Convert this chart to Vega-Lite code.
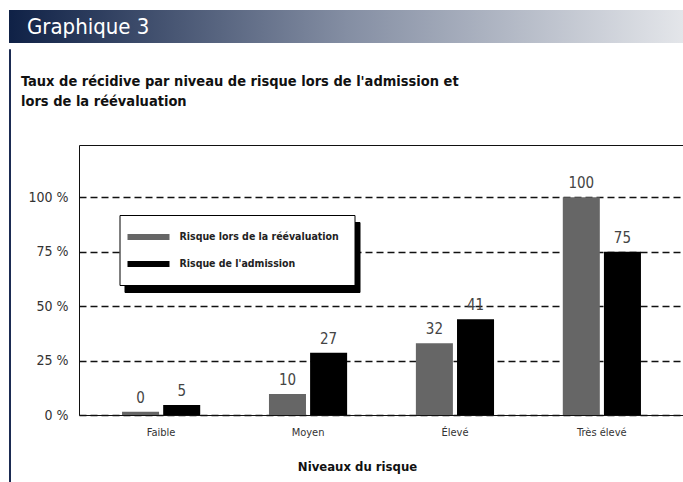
{
  "$schema": "https://vega.github.io/schema/vega-lite/v6.json",
  "autosize": {"type": "pad"},
  "padding": {"left": 8, "top": 10, "right": 0, "bottom": 0},
  "background": "white",
  "spacing": 0,
  "config": {
    "font": "DejaVu Sans Condensed, sans-serif"
  },
  "vconcat": [
    {
      "width": 675,
      "height": 33,
      "view": {
        "stroke": null,
        "fill": {
          "gradient": "linear",
          "x1": 0, "y1": 0, "x2": 1, "y2": 0,
          "stops": [
            {"offset": 0, "color": "#0f2146"},
            {"offset": 0.5, "color": "#848ea3"},
            {"offset": 1, "color": "#e4e6ea"}
          ]
        }
      },
      "data": {"values": [{"t": "Graphique 3"}]},
      "mark": {"type": "text", "align": "left", "baseline": "alphabetic", "dx": -319.5, "dy": 7, "fontSize": 22, "color": "#ffffff"},
      "encoding": {"text": {"field": "t"}}
    },
    {
      "spacing": 1,
      "hconcat": [
        {
          "width": 1,
          "height": 439,
          "view": {"stroke": "#1b2b52", "fill": null},
          "data": {"values": [{"t": ""}]},
          "mark": {"type": "text"},
          "encoding": {"text": {"field": "t"}}
        },
        {
          "spacing": 36,
          "vconcat": [
            {
              "width": 605,
              "height": 1,
              "view": {"stroke": null, "fill": null},
              "title": {
                "text": ["Taux de récidive par niveau de risque lors de l'admission et", "lors de la réévaluation"],
                "orient": "bottom",
                "anchor": "start",
                "frame": "group",
                "baseline": "top",
                "dx": -58,
                "offset": 20,
                "lineHeight": 20,
                "fontSize": 14.5,
                "fontWeight": "bold",
                "color": "#111111"
              },
              "data": {"values": [{"t": ""}]},
              "mark": {"type": "text"},
              "encoding": {"text": {"field": "t"}}
            },
            {
              "width": 605,
              "height": 270,
              "view": {"stroke": "#111111", "fill": "white"},
              "data": {
                "values": [
                  {"niveau": "Faible", "serie": "Risque lors de la réévaluation", "hauteur": 1.5, "valeur": 0},
                  {"niveau": "Faible", "serie": "Risque de l'admission", "hauteur": 4.6, "valeur": 5},
                  {"niveau": "Moyen", "serie": "Risque lors de la réévaluation", "hauteur": 9.6, "valeur": 10},
                  {"niveau": "Moyen", "serie": "Risque de l'admission", "hauteur": 28.6, "valeur": 27},
                  {"niveau": "Élevé", "serie": "Risque lors de la réévaluation", "hauteur": 32.9, "valeur": 32},
                  {"niveau": "Élevé", "serie": "Risque de l'admission", "hauteur": 44, "valeur": 41},
                  {"niveau": "Très élevé", "serie": "Risque lors de la réévaluation", "hauteur": 100, "valeur": 100},
                  {"niveau": "Très élevé", "serie": "Risque de l'admission", "hauteur": 75, "valeur": 75}
                ]
              },
              "encoding": {
                "x": {
                  "field": "niveau",
                  "type": "nominal",
                  "sort": ["Faible", "Moyen", "Élevé", "Très élevé"],
                  "scale": {"paddingInner": 0.468, "paddingOuter": 0.293},
                  "axis": {
                    "title": "Niveaux du risque",
                    "titleFontSize": 13,
                    "titleFontWeight": "bold",
                    "titleColor": "#111111",
                    "titlePadding": 23,
                    "titleX": 278,
                    "labelAngle": 0,
                    "ticks": false,
                    "domain": false,
                    "grid": false,
                    "labelPadding": 11,
                    "labelFontSize": 11,
                    "labelColor": "#333333"
                  }
                },
                "xOffset": {
                  "field": "serie",
                  "type": "nominal",
                  "sort": ["Risque lors de la réévaluation", "Risque de l'admission"],
                  "scale": {"paddingInner": 0.1, "paddingOuter": 0}
                },
                "y": {
                  "field": "hauteur",
                  "type": "quantitative",
                  "scale": {"domain": [0, 124], "nice": false},
                  "axis": {
                    "title": null,
                    "values": [0, 25, 50, 75, 100],
                    "labelExpr": "datum.value + ' %'",
                    "grid": true,
                    "gridColor": "#111111",
                    "gridDash": [7, 4],
                    "gridWidth": 1.5,
                    "ticks": false,
                    "domain": false,
                    "labelPadding": 11,
                    "labelFontSize": 14,
                    "labelColor": "#333333",
                    "minExtent": 66
                  }
                }
              },
              "layer": [
                {
                  "mark": {"type": "text", "dy": -14, "baseline": "middle", "fontSize": 15},
                  "encoding": {
                    "text": {"field": "valeur", "type": "quantitative"},
                    "color": {
                      "field": "serie",
                      "type": "nominal",
                      "scale": {"domain": ["Risque de l'admission", "Risque lors de la réévaluation"], "range": ["#444444", "#444444"]},
                      "legend": {
                        "orient": "none",
                        "legendX": 115.5,
                        "legendY": 212,
                        "title": null,
                        "fillColor": "#000000",
                        "strokeColor": "#000000",
                        "padding": 15,
                        "symbolType": "M-2,-0.43L4,-0.43L4,0.43L-2,0.43Z",
                        "symbolSize": 196,
                        "symbolStrokeWidth": 0,
                        "symbolOpacity": 0,
                        "labelExpr": "''",
                        "labelFontSize": 10.5,
                        "labelOffset": 191,
                        "rowPadding": 14,
                        "labelColor": "#000000"
                      }
                    }
                  }
                },
                {
                  "mark": {"type": "bar"},
                  "encoding": {
                    "fill": {
                      "field": "serie",
                      "type": "nominal",
                      "scale": {"domain": ["Risque lors de la réévaluation", "Risque de l'admission"], "range": ["#666666", "#000000"]},
                      "legend": {
                        "orient": "none",
                        "legendX": 110.5,
                        "legendY": 205,
                        "title": null,
                        "fillColor": "white",
                        "strokeColor": "#000000",
                        "padding": 15,
                        "symbolType": "M-2,-0.43L4,-0.43L4,0.43L-2,0.43Z",
                        "symbolSize": 196,
                        "symbolStrokeWidth": 0,
                        "labelFontSize": 10.5,
                        "labelFontWeight": "bold",
                        "labelOffset": 31,
                        "labelLimit": 400,
                        "rowPadding": 14,
                        "labelColor": "#222222"
                      }
                    }
                  }
                }
              ]
            }
          ]
        }
      ]
    }
  ]
}
